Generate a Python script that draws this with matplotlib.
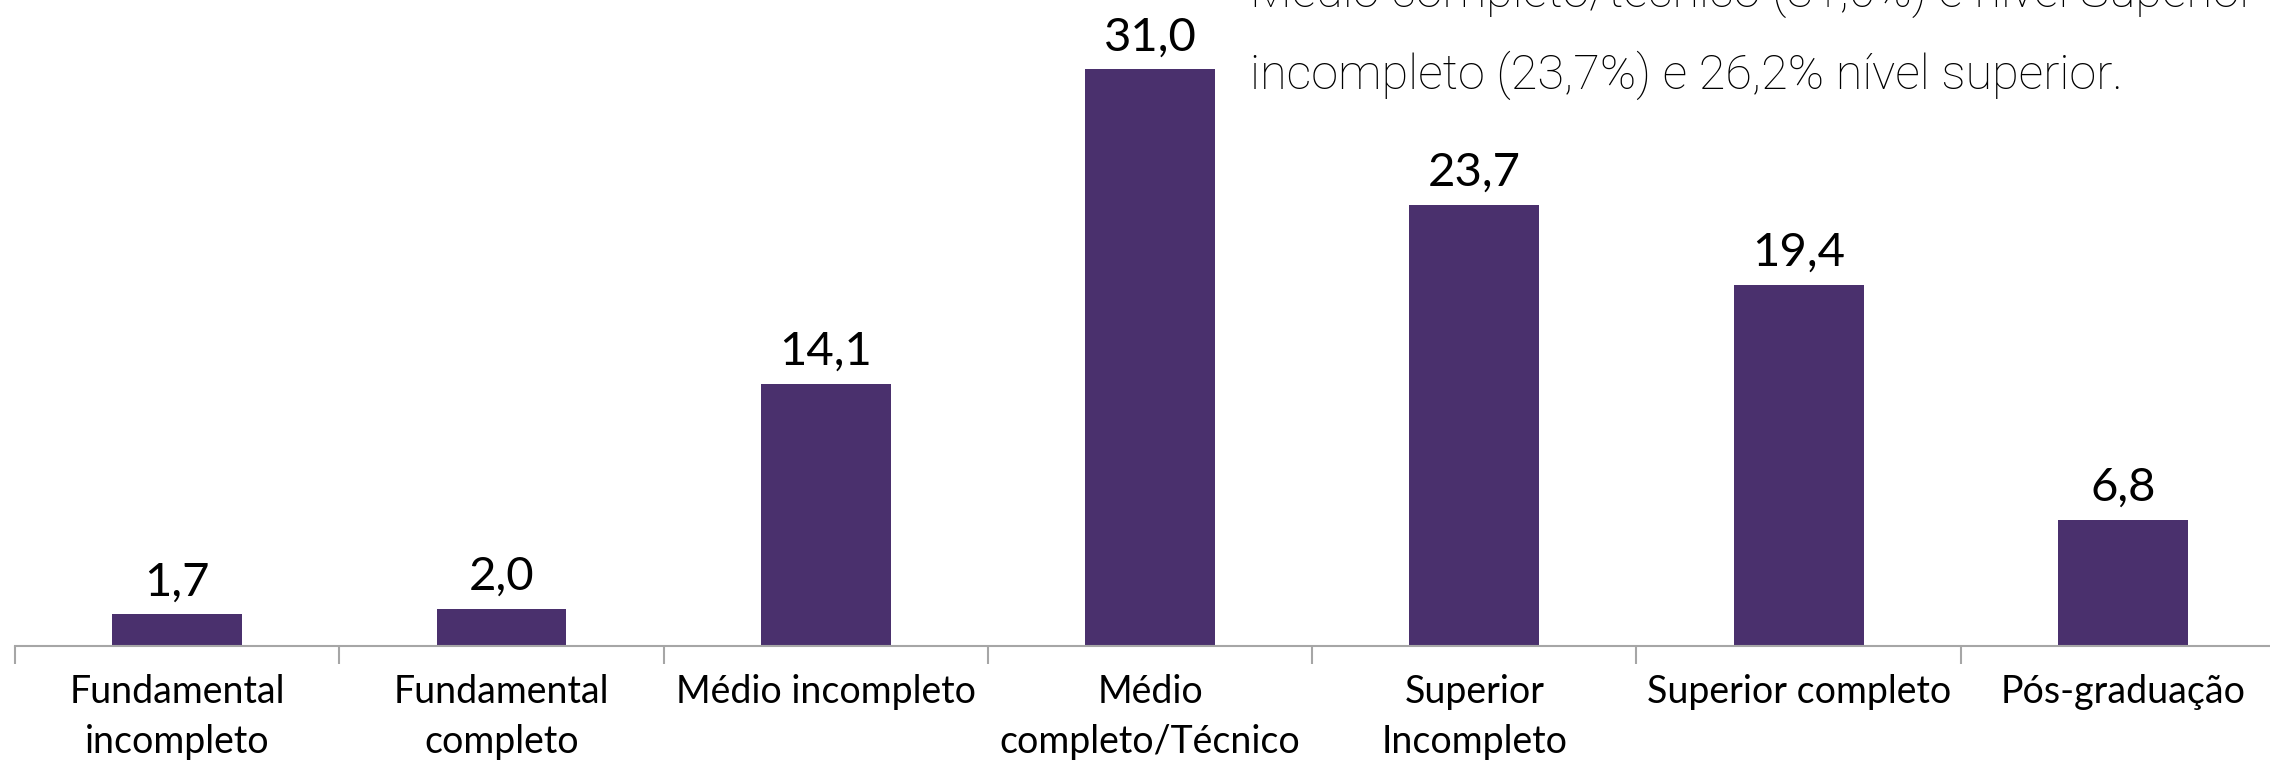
import matplotlib
matplotlib.use('Agg')
import matplotlib.pyplot as plt
import numpy as np

categories = ['Fundamental\nincompleto', 'Fundamental\ncompleto', 'Médio incompleto',
              'Médio\ncompleto/Técnico', 'Superior\nIncompleto', 'Superior completo',
              'Pós-graduação']
values = [1.7, 2.0, 14.1, 31.0, 23.7, 19.4, 6.8]
value_labels = ['1,7', '2,0', '14,1', '31,0', '23,7', '19,4', '6,8']
note_lines = ['Médio completo/técnico (31,0%) e nível Superior',
              'incompleto (23,7%) e 26,2% nível superior.']

W, H = 2270, 762
bar_color = '#4A306D'
axis_gray = '#A6A6A6'

fig = plt.figure(figsize=(W / 100, H / 100), dpi=100)

# axes placed in pixels; right end runs past the image edge like the original crop
left_px, base_px, unit_px = 15, 646, 324.3
px_per_val = 18.6
ymax = 34
ax = fig.add_axes([left_px / W, (H - base_px) / H,
                   7 * unit_px / W, ymax * px_per_val / H])

x = np.arange(len(categories))
bars = ax.bar(x, values, width=0.4, color=bar_color)

for xi, v, lab in zip(x, values, value_labels):
    ax.annotate(lab, (xi, v), xytext=(0, 8), textcoords='offset points',
                ha='center', va='bottom', fontsize=34, family='Lato')

ax.set_xlim(-0.5, 6.5)
ax.set_ylim(0, ymax)
for s in ['top', 'right', 'left']:
    ax.spines[s].set_visible(False)
ax.spines['bottom'].set_color(axis_gray)
ax.spines['bottom'].set_linewidth(1.5)
ax.set_yticks([])

ax.set_xticks(x)
ax.set_xticklabels(categories, fontsize=27, family='Lato', linespacing=1.5)
ax.tick_params(axis='x', which='major', length=0, pad=20)
ax.set_xticks(np.arange(-0.5, 7.0, 1.0), minor=True)
ax.tick_params(axis='x', which='minor', length=13, width=1.5, color=axis_gray)

# annotation text, first line partly cut off at the top edge (as in the original)
fig.text(1250 / W, 1 - 7 / H, note_lines[0], fontsize=35, family='Roboto',
         fontweight='light', va='baseline', ha='left', color='black')
fig.text(1250 / W, 1 - 89 / H, note_lines[1], fontsize=35, family='Roboto',
         fontweight='light', va='baseline', ha='left', color='black')

fig.savefig('out.png', dpi=100)
